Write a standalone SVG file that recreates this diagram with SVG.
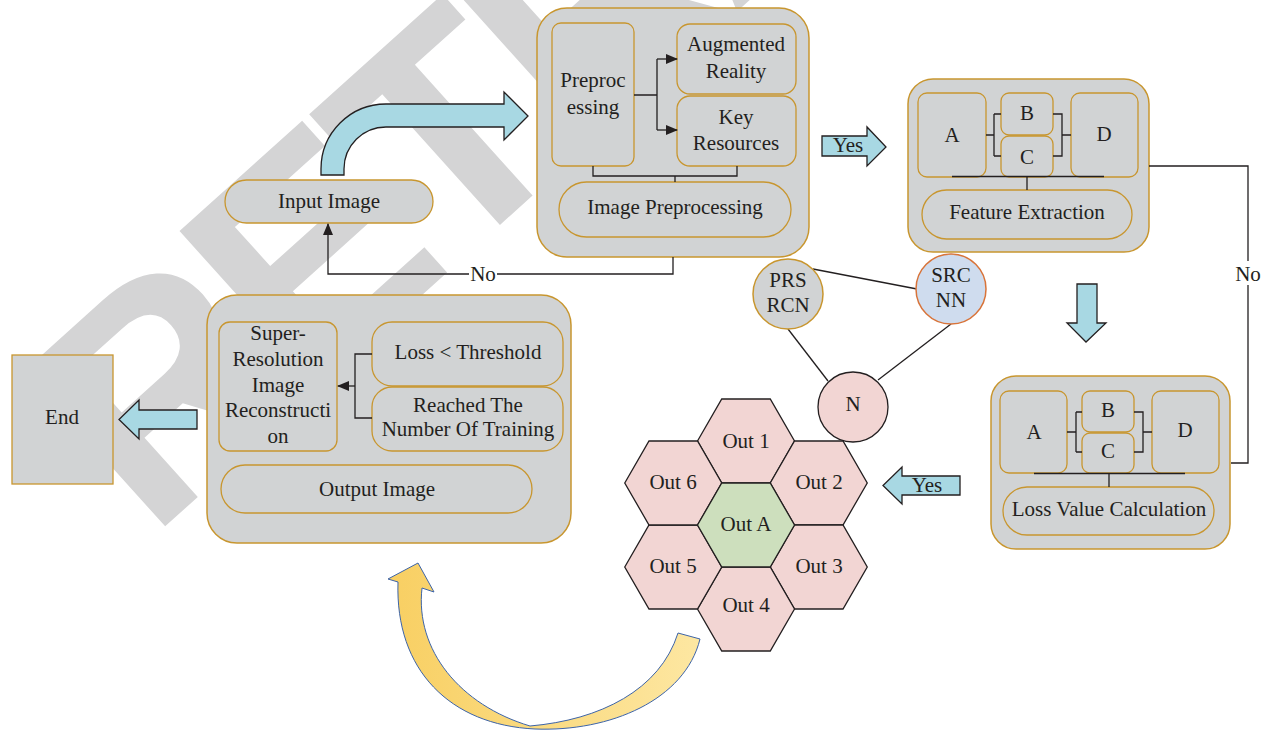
<svg xmlns="http://www.w3.org/2000/svg" width="1272" height="731" viewBox="0 0 1272 731">
<defs>
<style>
.t{font-family:"Liberation Serif","Times New Roman",serif;font-size:21px;fill:#231f20;text-anchor:middle}
.box{fill:#d1d3d4;stroke:#c8962f;stroke-width:1.5}
.in{fill:#d1d3d4;stroke:#c8962f;stroke-width:1.3}
.ln{fill:none;stroke:#231f20;stroke-width:1.3}
.blue{fill:#a8d8e3;stroke:#231f20;stroke-width:1.3}
.hex{fill:#f2d5d3;stroke:#231f20;stroke-width:1.3}
.wm{font-family:"Liberation Sans",Arial,sans-serif;font-weight:bold;font-size:305px;letter-spacing:-12px;fill:#d4d4d5}
</style>
<marker id="ah" markerWidth="12" markerHeight="10" refX="11" refY="5" orient="auto" markerUnits="userSpaceOnUse">
<path d="M0,0 L12,5 L0,10 Z" fill="#231f20"/>
</marker>
<linearGradient id="yg" x1="0" y1="0" x2="1" y2="0">
<stop offset="0" stop-color="#f8cf62"/>
<stop offset="1" stop-color="#fde7a2"/>
</linearGradient>
</defs>
<rect x="0" y="0" width="1272" height="731" fill="#ffffff"/>
<text class="wm" transform="translate(150,540) rotate(-42)">RETRACTED</text>

<g id="arrows">
<path class="blue" d="M321,175 L321,169 A65,65 0 0 1 386,104 L504,104 L504,92 L528,116 L504,140 L504,127 L386,127 A42,42 0 0 0 344,169 L344,175 Z"/>
<path class="blue" d="M822,136 H867 V127 L886,147 L867,166 V156 H822 Z"/>
<text class="t" x="848" y="152">Yes</text>
<path class="blue" d="M1077,284 H1097 V323 H1106 L1086,342 L1067,323 H1077 Z"/>
<path class="blue" d="M960,476 H902 V467 L883,485.5 L902,504 V495 H960 Z"/>
<text class="t" x="927" y="492">Yes</text>
<path class="blue" d="M197,410 H139 V400 L119,419.5 L139,439 V429 H197 Z"/>
<path fill="url(#yg)" stroke="#3d64a8" stroke-width="1" d="M388,579 L418,563 L434,592 L422,588 C415,650 460,705 530,726 C600,720 660,690 678,633 L700,639 C685,700 610,732 535,729 C450,725 395,670 398,582 Z"/>
</g>

<g id="top-box">
<rect class="box" x="537" y="8" width="272" height="249" rx="30"/>
<g id="preprocessing"><rect class="in" x="552" y="23" width="82" height="143" rx="9"/>
<text class="t" x="593" y="87">Preproc</text><text class="t" x="593" y="114">essing</text></g>
<g id="augmented-reality"><rect class="in" x="677" y="24" width="119" height="70" rx="13"/>
<text class="t" x="736" y="51">Augmented</text><text class="t" x="736" y="78">Reality</text></g>
<g id="key-resources"><rect class="in" x="677" y="96" width="119" height="70" rx="13"/>
<text class="t" x="736" y="124">Key</text><text class="t" x="736" y="150">Resources</text></g>
<g id="image-preprocessing"><rect class="in" x="559" y="182" width="232" height="55" rx="27.5"/>
<text class="t" x="675" y="214">Image Preprocessing</text></g>
</g>

<g id="feature-box">
<rect class="box" x="908" y="79" width="241" height="173" rx="25"/>
<g id="fe-a"><rect class="in" x="918" y="93" width="68" height="84" rx="9"/><text class="t" x="952" y="142">A</text></g>
<g id="fe-b"><rect class="in" x="1001" y="93" width="52" height="42" rx="8"/><text class="t" x="1027" y="120">B</text></g>
<g id="fe-c"><rect class="in" x="1001" y="136" width="52" height="41" rx="8"/><text class="t" x="1027" y="164">C</text></g>
<g id="fe-d"><rect class="in" x="1071" y="93" width="67" height="84" rx="9"/><text class="t" x="1104" y="141">D</text></g>
<g id="feature-extraction"><rect class="in" x="922" y="190" width="210" height="49" rx="24.5"/>
<text class="t" x="1027" y="219">Feature Extraction</text></g>
</g>

<g id="loss-box">
<rect class="box" x="991" y="376" width="239" height="173" rx="25"/>
<g id="lv-a"><rect class="in" x="1000" y="391" width="67" height="82" rx="9"/><text class="t" x="1034" y="439">A</text></g>
<g id="lv-b"><rect class="in" x="1082" y="391" width="52" height="41" rx="8"/><text class="t" x="1108" y="417">B</text></g>
<g id="lv-c"><rect class="in" x="1082" y="433" width="52" height="40" rx="8"/><text class="t" x="1108" y="458">C</text></g>
<g id="lv-d"><rect class="in" x="1152" y="391" width="67" height="82" rx="9"/><text class="t" x="1185" y="437">D</text></g>
<g id="loss-value"><rect class="in" x="1003" y="487" width="211" height="48" rx="24"/>
<text class="t" x="1109" y="516">Loss Value Calculation</text></g>
</g>

<g id="output-box">
<rect class="box" x="207" y="295" width="364" height="248" rx="30"/>
<g id="super-resolution"><rect class="in" x="219" y="322" width="118" height="129" rx="11"/>
<text class="t" x="278" y="340">Super-</text><text class="t" x="278" y="366">Resolution</text><text class="t" x="278" y="392">Image</text><text class="t" x="278" y="417">Reconstructi</text><text class="t" x="278" y="443">on</text></g>
<g id="loss-threshold"><rect class="in" x="372" y="322" width="191" height="64" rx="20"/>
<text class="t" x="468" y="359">Loss &lt; Threshold</text></g>
<g id="reached-training"><rect class="in" x="372" y="387" width="191" height="64" rx="20"/>
<text class="t" x="468" y="412">Reached The</text><text class="t" x="468" y="436">Number Of Training</text></g>
<g id="output-image"><rect class="in" x="221" y="465" width="311" height="48" rx="24"/>
<text class="t" x="377" y="496">Output Image</text></g>
</g>

<g id="input-image"><rect class="in" x="225" y="180" width="208" height="43" rx="21.5"/>
<text class="t" x="329" y="208">Input Image</text></g>

<g id="end"><rect class="in" x="12" y="355" width="101" height="129"/>
<text class="t" x="62" y="424">End</text></g>

<g id="connectors">
<path class="ln" d="M634,95 H657 M657,59 V130" />
<path class="ln" d="M657,59 H677" marker-end="url(#ah)"/>
<path class="ln" d="M657,130 H677" marker-end="url(#ah)"/>
<path class="ln" d="M593,166 V176 H737 V166 M675,176 V182"/>
<path class="ln" d="M986,135 H994 M994,114 V156 M994,114 H1001 M994,156 H1001 M1053,114 H1062 V156 H1053 M1062,135 H1071 M952,176.5 H1104 M1027,176.5 V190"/>
<path class="ln" d="M1067,432 H1076 M1076,412 V452 M1076,412 H1082 M1076,452 H1082 M1134,412 H1143 V452 H1134 M1143,432 H1152 M1034,473.5 H1185 M1109,473.5 V487"/>
<path class="ln" d="M372,354 H355 V418 H372" />
<path class="ln" d="M355,386 H338" marker-end="url(#ah)"/>
<path class="ln" d="M673,257 V274 H328 V224" marker-end="url(#ah)"/>
<path class="ln" d="M1149,166 H1248 V463 H1231"/>
<line class="ln" x1="813" y1="269" x2="917" y2="289"/>
<line class="ln" x1="788" y1="329" x2="828" y2="381"/>
<line class="ln" x1="951" y1="324" x2="878" y2="380"/>
<rect x="469" y="264" width="28" height="20" fill="#ffffff"/>
<text class="t" x="483" y="281">No</text>
<rect x="1235" y="261" width="26" height="24" fill="#ffffff"/>
<text class="t" x="1248" y="281">No</text>
</g>

<g id="prs-rcn"><circle cx="788" cy="294" r="35" fill="#d1d3d4" stroke="#c8962f" stroke-width="1.5"/>
<text class="t" x="788" y="287">PRS</text><text class="t" x="788" y="312">RCN</text></g>
<g id="src-nn"><circle cx="951" cy="289" r="35" fill="#cfdcee" stroke="#d8743a" stroke-width="1.5"/>
<text class="t" x="951" y="282">SRC</text><text class="t" x="951" y="307">NN</text></g>
<g id="n"><circle cx="853" cy="407" r="35" fill="#f2d5d3" stroke="#231f20" stroke-width="1.3"/>
<text class="t" x="853" y="411">N</text></g>

<g id="out-1"><polygon class="hex" points="697.5,441 721.75,399 770.25,399 794.5,441 770.25,483 721.75,483"/><text class="t" x="746" y="448">Out 1</text></g>
<g id="out-2"><polygon class="hex" points="770.25,483 794.5,441 843,441 867.25,483 843,525 794.5,525"/><text class="t" x="819" y="489">Out 2</text></g>
<g id="out-3"><polygon class="hex" points="770.25,567 794.5,525 843,525 867.25,567 843,609 794.5,609"/><text class="t" x="819" y="573">Out 3</text></g>
<g id="out-4"><polygon class="hex" points="697.5,609 721.75,567 770.25,567 794.5,609 770.25,651 721.75,651"/><text class="t" x="746" y="612">Out 4</text></g>
<g id="out-5"><polygon class="hex" points="624.75,567 649,525 697.5,525 721.75,567 697.5,609 649,609"/><text class="t" x="673" y="573">Out 5</text></g>
<g id="out-6"><polygon class="hex" points="624.75,483 649,441 697.5,441 721.75,483 697.5,525 649,525"/><text class="t" x="673" y="489">Out 6</text></g>
<g id="out-a"><polygon points="697.5,525 721.75,483 770.25,483 794.5,525 770.25,567 721.75,567" fill="#cddfbd" stroke="#231f20" stroke-width="1.3"/><text class="t" x="746" y="531">Out A</text></g>
</svg>
